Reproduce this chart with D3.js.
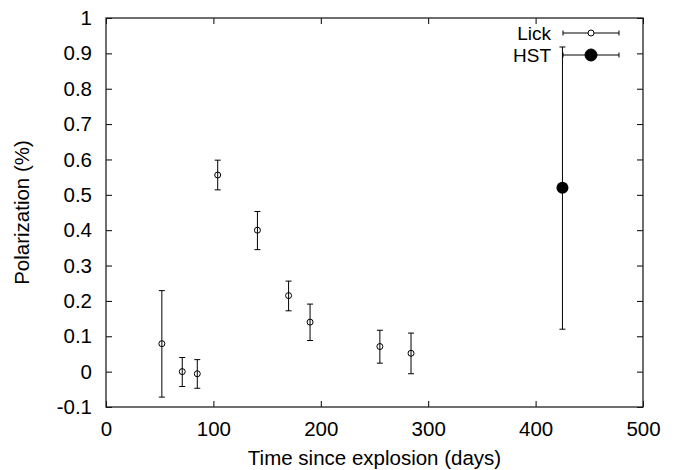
<!DOCTYPE html>
<html>
<head>
<meta charset="utf-8">
<script src="https://cdn.jsdelivr.net/npm/d3@7"></script>
<style>
  body { margin: 0; background: #fff; }
  text { font-family: "Liberation Sans", Arial, sans-serif; }
</style>
</head>
<body>
<div class="canvas"></div>
<script>
// data
const lickDays = [52, 71, 85, 104, 141, 170, 190, 255, 284];
const lickPol = [0.079, 0.0, -0.006, 0.556, 0.400, 0.215, 0.140, 0.071, 0.052];
const lickLow = [-0.072, -0.042, -0.047, 0.514, 0.345, 0.172, 0.088, 0.024, -0.006];
const lickHigh = [0.229, 0.040, 0.034, 0.598, 0.453, 0.256, 0.191, 0.117, 0.109];

const hstDays = [425];
const hstPol = [0.52];
const hstLow = [0.12];
const hstHigh = [0.918];

const xTicks = [0, 100, 200, 300, 400, 500];
const yTicks = [-0.1, 0, 0.1, 0.2, 0.3, 0.4, 0.5, 0.6, 0.7, 0.8, 0.9, 1];

const width = 682, height = 470;
const margin = { top: 18, right: 39, bottom: 63, left: 106 };
const w = width - margin.left - margin.right;
const h = height - margin.top - margin.bottom;
const fontSize = 20.5;

const svg = d3.select('.canvas')
	.append('svg')
	.attr('width', width)
	.attr('height', height);

const g = svg.append('g')
	.attr('transform', `translate(${margin.left}, ${margin.top})`);

const x = d3.scaleLinear().domain([0, 500]).range([0, w]);
const y = d3.scaleLinear().domain([-0.1, 1]).range([h, 0]);

// gnuplot style labels: plain hyphen, no trailing zeros
const fmt = d => String(+d.toFixed(1));

// axes (ticks pointing inward, mirrored on top / right)
const axisStyle = (sel) => {
	sel.select('.domain').remove();
	sel.selectAll('line').attr('stroke', '#000').attr('stroke-width', 1);
	sel.selectAll('text').attr('font-size', fontSize).attr('fill', '#000');
};

g.append('g').attr('transform', `translate(0, ${h})`)
	.call(d3.axisBottom(x).tickValues(xTicks).tickSizeInner(-6).tickPadding(14))
	.call(axisStyle);
g.append('g')
	.call(d3.axisTop(x).tickValues(xTicks).tickSizeInner(-6).tickFormat(''))
	.call(axisStyle);
g.append('g')
	.call(d3.axisLeft(y).tickValues(yTicks).tickSizeInner(-6).tickPadding(14).tickFormat(fmt))
	.call(axisStyle);
g.append('g').attr('transform', `translate(${w}, 0)`)
	.call(d3.axisRight(y).tickValues(yTicks).tickSizeInner(-6).tickFormat(''))
	.call(axisStyle);

// frame
g.append('rect')
	.attr('width', w).attr('height', h)
	.attr('fill', 'none')
	.attr('stroke', '#222')
	.attr('stroke-width', 1.3);

// axis titles
svg.append('text')
	.attr('x', margin.left + w / 2).attr('y', 465)
	.attr('text-anchor', 'middle')
	.attr('font-size', fontSize)
	.text('Time since explosion (days)');
svg.append('text')
	.attr('transform', `translate(29, ${margin.top + h / 2}) rotate(-90)`)
	.attr('text-anchor', 'middle')
	.attr('font-size', fontSize)
	.text('Polarization (%)');

const cap = 3;

// error bars
const drawBars = (days, low, high) => {
	const bars = g.append('g').attr('stroke', '#000').attr('stroke-width', 1);
	days.forEach((d, i) => {
		bars.append('line')
			.attr('x1', x(d)).attr('x2', x(d))
			.attr('y1', y(low[i])).attr('y2', y(high[i]));
		bars.append('line')
			.attr('x1', x(d) - cap).attr('x2', x(d) + cap)
			.attr('y1', y(low[i])).attr('y2', y(low[i]));
		bars.append('line')
			.attr('x1', x(d) - cap).attr('x2', x(d) + cap)
			.attr('y1', y(high[i])).attr('y2', y(high[i]));
	});
};

drawBars(lickDays, lickLow, lickHigh);
drawBars(hstDays, hstLow, hstHigh);

g.selectAll('circle.lick')
	.data(lickDays)
	.enter()
	.append('circle')
	.attr('class', 'lick')
	.attr('cx', d => x(d))
	.attr('cy', (d, i) => y(lickPol[i]))
	.attr('r', 3)
	.attr('fill', 'none')
	.attr('stroke', '#000')
	.attr('stroke-width', 1);

g.selectAll('circle.hst')
	.data(hstDays)
	.enter()
	.append('circle')
	.attr('class', 'hst')
	.attr('cx', d => x(d))
	.attr('cy', (d, i) => y(hstPol[i]))
	.attr('r', 6)
	.attr('fill', '#000');

// legend
const legend = svg.append('g');
const legendItems = [
	{ name: 'Lick', y: 33, r: 3, fill: 'none' },
	{ name: 'HST', y: 55, r: 6, fill: '#000' }
];
legendItems.forEach(item => {
	legend.append('text')
		.attr('x', 551).attr('y', item.y + 7)
		.attr('text-anchor', 'end')
		.attr('font-size', 19)
		.text(item.name);
	legend.append('line')
		.attr('x1', 563).attr('x2', 619)
		.attr('y1', item.y).attr('y2', item.y)
		.attr('stroke', '#000');
	[563, 619].forEach(cx => {
		legend.append('line')
			.attr('x1', cx).attr('x2', cx)
			.attr('y1', item.y - 2.5).attr('y2', item.y + 2.5)
			.attr('stroke', '#000');
	});
	legend.append('circle')
		.attr('cx', 591).attr('cy', item.y)
		.attr('r', item.r)
		.attr('fill', item.fill === 'none' ? '#fff' : item.fill)
		.attr('stroke', '#000');
});
</script>
</body>
</html>
